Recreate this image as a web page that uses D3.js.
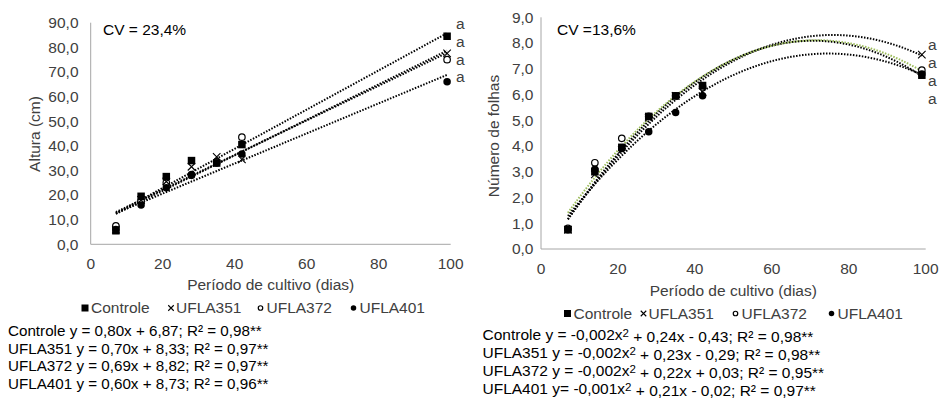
<!DOCTYPE html>
<html>
<head>
<meta charset="utf-8">
<script src="https://cdn.jsdelivr.net/npm/d3@7"></script>
<style>
  body { margin: 0; background: #fff; }
  svg { display: block; }
  text { font-family: "Liberation Sans", Arial, sans-serif; }
</style>
</head>
<body>
<svg id="chart" width="941" height="398"></svg>
<script>
// dias de cultivo
const days = [7, 14, 21, 28, 35, 42, 99];
const seriesNames = ["Controle", "UFLA351", "UFLA372", "UFLA401"];

// altura (cm)
const alturaControle = [5.5, 19.5, 27.5, 34, 33, 40.5, 84.5];
const alturaUFLA351 = [6, 18, 25.5, 31.5, 35.5, 34.5, 77.5];
const alturaUFLA372 = [7.5, 17.5, 25, 28, 33.5, 43.5, 75];
const alturaUFLA401 = [6, 16, 23, 28.3, 33, 36.7, 66];

// numero de folhas
const folhasControle = [0.75, 3.0, 3.95, 5.15, 5.95, 6.35, 6.75];
const folhasUFLA351 = [0.75, 2.9, 3.85, 5.1, 5.95, 6.1, 7.55];
const folhasUFLA372 = [0.8, 3.35, 4.3, 5.15, 5.95, 6.3, 6.95];
const folhasUFLA401 = [0.75, 3.1, 3.9, 4.55, 5.3, 5.95, 6.8];

const alturaEq = [
  "Controle y = 0,80x + 6,87; R² = 0,98**",
  "UFLA351 y = 0,70x + 8,33; R² = 0,97**",
  "UFLA372 y = 0,69x + 8,82; R² = 0,97**",
  "UFLA401 y = 0,60x + 8,73; R² = 0,96**"
];
// [antes do x, depois do x²]
const folhasEq = [
  ["Controle y = -0,002x", " + 0,24x - 0,43; R² = 0,98**"],
  ["UFLA351 y = -0,002x", " + 0,23x - 0,29; R² = 0,98**"],
  ["UFLA372 y = -0,002x", " + 0,22x + 0,03; R² = 0,95**"],
  ["UFLA401 y= -0,001x", " + 0,21x - 0,02; R² = 0,97**"]
];
const letters = ["a", "a", "a", "a"];

const xTicks = [0, 20, 40, 60, 80, 100];
const alturaTicks = d3.range(0, 91, 10);
const folhasTicks = d3.range(0, 10, 1);

const svg = d3.select('#chart');
svg.append('rect').attr('width', 941).attr('height', 398).attr('fill', '#fff');

const fmt = v => d3.format('.1f')(v).replace('.', ',');
const textColor = '#404040';
const fs = '15.5px';

// minimos quadrados
function linFit(xs, ys) {
  let n = xs.length, mx = d3.mean(xs), my = d3.mean(ys);
  let sxy = 0, sxx = 0;
  for (let i = 0; i < n; i++) { sxy += (xs[i]-mx)*(ys[i]-my); sxx += (xs[i]-mx)**2 }
  let b = sxy / sxx;
  return x => my + b * (x - mx);
}
function quadFit(xs, ys) {
  // normal equations 3x3
  let S = [0,0,0,0,0], T = [0,0,0];
  xs.forEach((x, i) => {
    for (let k = 0; k < 5; k++) S[k] += x ** k;
    for (let k = 0; k < 3; k++) T[k] += ys[i] * x ** k;
  });
  let A = [[S[0],S[1],S[2],T[0]],[S[1],S[2],S[3],T[1]],[S[2],S[3],S[4],T[2]]];
  for (let i = 0; i < 3; i++) {
    for (let j = i + 1; j < 3; j++) {
      let f = A[j][i] / A[i][i];
      for (let k = i; k < 4; k++) A[j][k] -= f * A[i][k];
    }
  }
  let c = [0,0,0];
  for (let i = 2; i >= 0; i--) {
    let s = A[i][3];
    for (let k = i + 1; k < 3; k++) s -= A[i][k] * c[k];
    c[i] = s / A[i][i];
  }
  return x => c[0] + c[1]*x + c[2]*x*x;
}

function marker(g, type, x, y, size) {
  if (type === 0) {
    g.append('rect').attr('x', x - size/2).attr('y', y - size/2)
      .attr('width', size).attr('height', size).attr('fill', '#000');
  } else if (type === 1) {
    let h = size / 2;
    g.append('path').attr('d', `M${x-h},${y-h}L${x+h},${y+h}M${x-h},${y+h}L${x+h},${y-h}`)
      .attr('stroke', '#000').attr('stroke-width', 1.1).attr('fill', 'none');
  } else if (type === 2) {
    g.append('circle').attr('cx', x).attr('cy', y).attr('r', size/2 - 0.5)
      .attr('fill', '#fff').attr('stroke', '#000').attr('stroke-width', 1.2);
  } else {
    g.append('circle').attr('cx', x).attr('cy', y).attr('r', size/2).attr('fill', '#000');
  }
}

function drawPanel(opt) {
  const g = svg.append('g');
  const x = d3.scaleLinear().domain([0, 100]).range(opt.xr);
  const y = d3.scaleLinear().domain([0, opt.ymax]).range(opt.yr);

  // eixos
  g.append('line').attr('x1', x(0)).attr('x2', x(0)).attr('y1', y(opt.ymax)).attr('y2', y(0))
    .attr('stroke', '#a6a6a6').attr('stroke-width', 1);
  g.append('line').attr('x1', x(0)).attr('x2', x(100)).attr('y1', y(0)).attr('y2', y(0))
    .attr('stroke', '#a6a6a6').attr('stroke-width', 1);

  g.selectAll('.yt').data(opt.yTicks).join('text')
    .attr('x', opt.yLabelX).attr('y', d => y(d)).attr('dy', '0.35em')
    .attr('text-anchor', 'end').attr('fill', textColor).style('font-size', fs)
    .text(fmt);
  g.selectAll('.xt').data(xTicks).join('text')
    .attr('x', d => x(d)).attr('y', opt.xLabelY).attr('dy', '0.35em')
    .attr('text-anchor', 'middle').attr('fill', textColor).style('font-size', fs)
    .text(d => d);

  g.append('text').attr('x', d3.mean(opt.xr)).attr('y', opt.xTitleY).attr('dy', '0.35em')
    .attr('text-anchor', 'middle').attr('fill', textColor).style('font-size', fs)
    .text('Período de cultivo (dias)');
  g.append('text').attr('transform', `translate(${opt.yTitleX},${opt.yTitleY}) rotate(-90)`)
    .attr('dy', '0.35em').attr('text-anchor', 'middle').attr('fill', textColor)
    .style('font-size', fs).text(opt.yTitle);

  g.append('text').attr('x', opt.cvX).attr('y', opt.cvY).attr('dy', '0.35em')
    .attr('fill', '#000').style('font-size', fs).text(opt.cv);

  // linhas de tendencia
  const xs = d3.range(days[0], days[days.length-1] + 0.01, 0.5);
  const line = d3.line().x(d => x(d[0])).y(d => y(d[1]));
  opt.values.forEach((vals, i) => {
    const f = opt.fit(days, vals);
    g.append('path').datum(xs.map(v => [v, f(v)]))
      .attr('d', line).attr('fill', 'none')
      .attr('stroke', opt.trendColors[i]).attr('stroke-width', 2)
      .attr('stroke-dasharray', '1.5,1.5');
  });

  // pontos
  opt.drawOrder.forEach(i => {
    days.forEach((d, j) => marker(g, i, x(d), y(opt.values[i][j]), 7.5));
  });

  // letras
  letters.forEach((l, i) => {
    g.append('text').attr('x', opt.letterX).attr('y', opt.letterY + i * opt.letterStep)
      .attr('dy', '0.35em').attr('fill', textColor).style('font-size', fs).text(l);
  });

  // legenda
  opt.legend.forEach((lx, i) => {
    marker(g, i, lx, opt.legendY, i === 0 ? 7 : 5.5);
    g.append('text').attr('x', lx + (i === 1 ? 5 : 6)).attr('y', opt.legendY).attr('dy', '0.35em')
      .attr('fill', textColor).style('font-size', fs).text(seriesNames[i]);
  });
  return g;
}

const left = drawPanel({
  xr: [90.7, 450.7], yr: [244.3, 22.7], ymax: 90,
  yTicks: alturaTicks, yLabelX: 78.5, xLabelY: 263.5, xTitleY: 285,
  yTitle: 'Altura (cm)', yTitleX: 35, yTitleY: 134,
  cv: 'CV = 23,4%', cvX: 103, cvY: 30,
  values: [alturaControle, alturaUFLA351, alturaUFLA372, alturaUFLA401],
  fit: linFit, trendColors: ['#000', '#000', '#000', '#000'],
  drawOrder: [2, 3, 1, 0],
  letterX: 456, letterY: 24, letterStep: 17.6,
  legend: [85, 171, 260.5, 353.5], legendY: 308
});

alturaEq.forEach((t, i) => {
  svg.append('text').attr('x', 8).attr('y', 331 + i * 17.4).attr('dy', '0.35em')
    .attr('fill', '#000').style('font-size', '15.2px').text(t);
});

const right = drawPanel({
  xr: [541, 925.7], yr: [249, 17.3], ymax: 9,
  yTicks: folhasTicks, yLabelX: 533.5, xLabelY: 268.5, xTitleY: 290.5,
  yTitle: 'Número de folhas', yTitleX: 494, yTitleY: 136,
  cv: 'CV =13,6%', cvX: 557, cvY: 29.5,
  values: [folhasControle, folhasUFLA351, folhasUFLA372, folhasUFLA401],
  fit: quadFit, trendColors: ['#000', '#000', '#9bbb59', '#000'],
  drawOrder: [2, 3, 1, 0],
  letterX: 928, letterY: 45, letterStep: 17.8,
  legend: [567.5, 643.5, 735.5, 831.5], legendY: 313.5
});

folhasEq.forEach((t, i) => {
  const tx = svg.append('text').attr('x', 482.5).attr('y', 335 + i * 18).attr('dy', '0.35em')
    .attr('fill', '#000').style('font-size', fs);
  tx.append('tspan').text(t[0]);
  tx.append('tspan').attr('dy', '-0.32em').style('font-size', '11.5px').text('2');
  tx.append('tspan').attr('dy', '0.32em').text(t[1]);
});
</script>
</body>
</html>
